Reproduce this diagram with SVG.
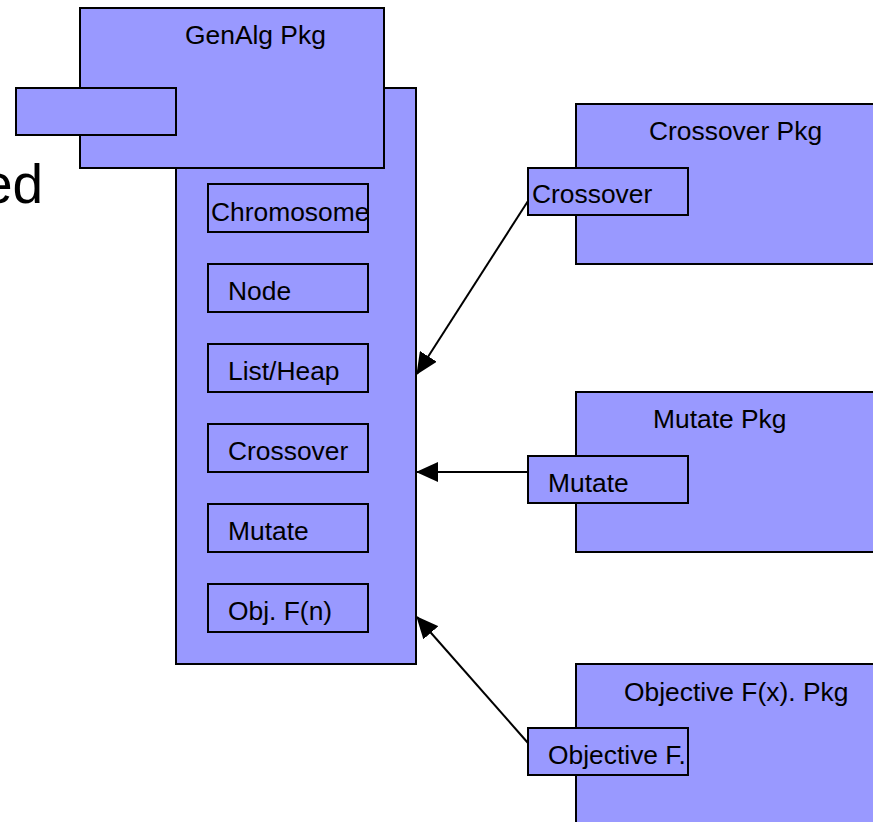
<svg xmlns="http://www.w3.org/2000/svg" width="873" height="822" viewBox="0 0 873 822">
  <style>
    .box { fill: #9999FF; stroke: #000; stroke-width: 2; }
    .lbl { font-family: "Liberation Sans", Arial, sans-serif; font-size: 26.4px; fill: #000; }
    .edge { stroke: #000; stroke-width: 2; fill: none; marker-end: url(#arrow); }
  </style>
  <defs>
    <marker id="arrow" viewBox="0 0 22 20" refX="21" refY="10" markerWidth="22" markerHeight="20" markerUnits="userSpaceOnUse" orient="auto">
      <path d="M0,0 L22,10 L0,20 Z" fill="#000"/>
    </marker>
  </defs>

  <!-- partial heading text at the left edge -->
  <text x="-18" y="203" font-family="Liberation Sans, Arial, sans-serif" font-size="55" fill="#000">ed</text>

  <!-- GenAlg package: body, header and tab -->
  <g id="genalg-pkg">
    <rect class="box" x="176" y="88" width="240" height="576"/>
    <rect class="box" x="80" y="8" width="304" height="160"/>
    <text class="lbl" x="185" y="44">GenAlg Pkg</text>
    <rect class="box" x="16" y="88" width="160" height="47"/>
  </g>

  <g id="chromosome">
    <rect class="box" x="208" y="184" width="160" height="48"/>
    <text class="lbl" x="211" y="221">Chromosome</text>
  </g>
  <g id="node">
    <rect class="box" x="208" y="264" width="160" height="48"/>
    <text class="lbl" x="228" y="300">Node</text>
  </g>
  <g id="list-heap">
    <rect class="box" x="208" y="344" width="160" height="48"/>
    <text class="lbl" x="228" y="380">List/Heap</text>
  </g>
  <g id="crossover-class">
    <rect class="box" x="208" y="424" width="160" height="48"/>
    <text class="lbl" x="228" y="460">Crossover</text>
  </g>
  <g id="mutate-class">
    <rect class="box" x="208" y="504" width="160" height="48"/>
    <text class="lbl" x="228" y="540">Mutate</text>
  </g>
  <g id="objfn-class">
    <rect class="box" x="208" y="584" width="160" height="48"/>
    <text class="lbl" x="228" y="620">Obj. F(n)</text>
  </g>

  <!-- Crossover package -->
  <g id="crossover-pkg">
    <rect class="box" x="576" y="104" width="310" height="160"/>
    <text class="lbl" x="649" y="140">Crossover Pkg</text>
    <rect class="box" x="528" y="168" width="160" height="47"/>
    <text class="lbl" x="532" y="203">Crossover</text>
  </g>

  <!-- Mutate package -->
  <g id="mutate-pkg">
    <rect class="box" x="576" y="392" width="310" height="160"/>
    <text class="lbl" x="653" y="428">Mutate Pkg</text>
    <rect class="box" x="528" y="456" width="160" height="47"/>
    <text class="lbl" x="548" y="492">Mutate</text>
  </g>

  <!-- Objective function package -->
  <g id="objective-pkg">
    <rect class="box" x="576" y="664" width="310" height="170"/>
    <text class="lbl" x="624" y="701">Objective F(x). Pkg</text>
    <rect class="box" x="528" y="728" width="160" height="47"/>
    <text class="lbl" x="548" y="764">Objective F.</text>
  </g>

  <!-- dependencies into the GenAlg package -->
  <g id="connectors">
    <line class="edge" x1="528" y1="201" x2="417" y2="374"/>
    <line class="edge" x1="528" y1="472" x2="417" y2="472"/>
    <line class="edge" x1="528" y1="743" x2="417" y2="617"/>
  </g>
</svg>
